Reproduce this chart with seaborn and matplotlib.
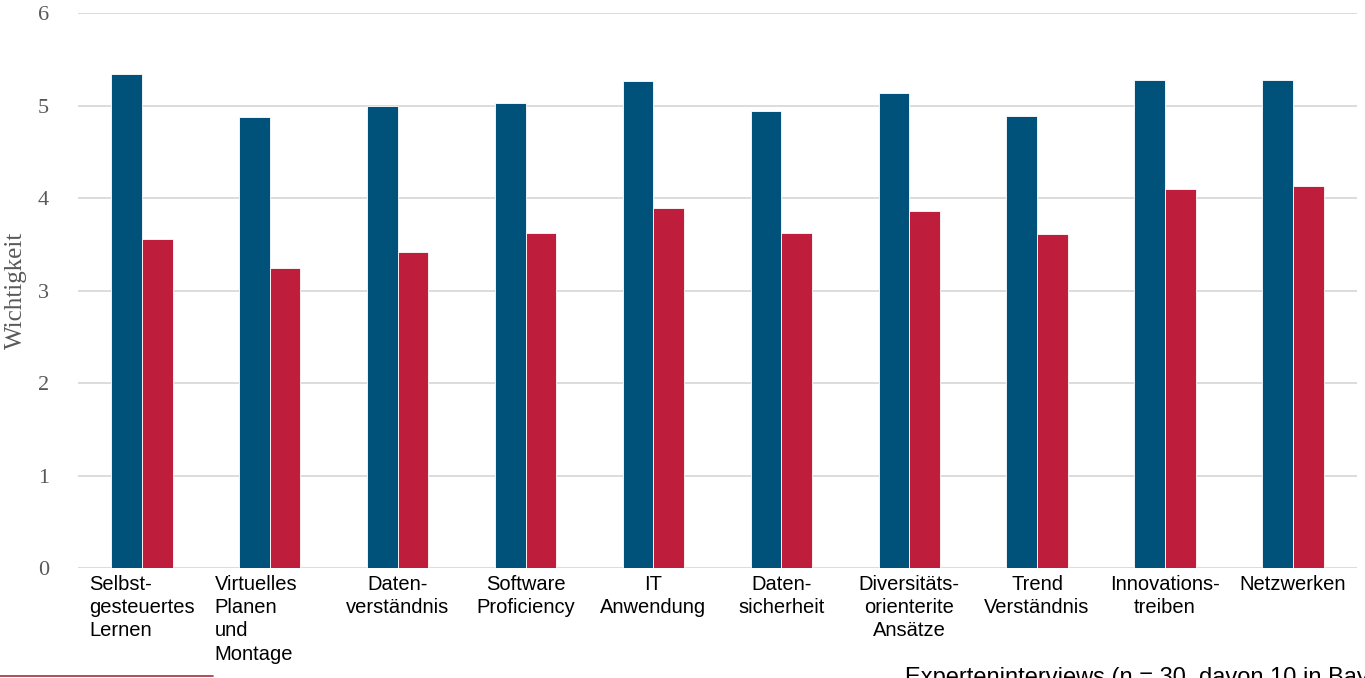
import matplotlib
matplotlib.use("Agg")
import matplotlib.pyplot as plt
import matplotlib.transforms as mtransforms
import seaborn as sns
import pandas as pd
from matplotlib.lines import Line2D

categories = [
    "Selbst-\ngesteuertes\nLernen",
    "Virtuelles\nPlanen\nund\nMontage",
    "Daten-\nverständnis",
    "Software\nProficiency",
    "IT\nAnwendung",
    "Daten-\nsicherheit",
    "Diversitäts-\norienterite\nAnsätze",
    "Trend\nVerständnis",
    "Innovations-\ntreiben",
    "Netzwerken",
]
series_names = ["Wichtigkeit", "Ist"]
values_a = [5.34, 4.88, 5.00, 5.03, 5.26, 4.94, 5.14, 4.89, 5.28, 5.28]
values_b = [3.56, 3.24, 3.42, 3.62, 3.89, 3.62, 3.86, 3.61, 4.10, 4.13]
y_ticks = [0, 1, 2, 3, 4, 5, 6]

df = pd.DataFrame({
    "cat": categories * 2,
    "series": [series_names[0]] * len(categories) + [series_names[1]] * len(categories),
    "value": values_a + values_b,
})

sns.set_theme(style="white")
plt.rcParams["font.family"] = ["Liberation Sans", "DejaVu Sans"]

fig = plt.figure(figsize=(13.65, 6.78), dpi=100)
ax = fig.add_axes([0.0571, 0.1622, 0.9369, 0.8186])

sns.barplot(data=df, x="cat", y="value", hue="series", order=categories,
            hue_order=series_names, palette=["#00527A", "#BE1E3C"],
            saturation=1, width=0.48, gap=0, ax=ax, legend=False,
            errorbar=None, linewidth=0.6, edgecolor="#ffffff")

ax.set_ylim(0, 6)
ax.set_xlim(-0.5, len(categories) - 0.5)
ax.set_yticks(y_ticks)
ax.yaxis.grid(True, color="#d9d9d9", linewidth=1.3)
ax.set_axisbelow(True)
for s in ax.spines.values():
    s.set_visible(False)

ax.tick_params(axis="y", length=0, pad=21, labelsize=16, labelcolor="#595959")
for lbl in ax.get_yticklabels():
    lbl.set_family("Liberation Serif")
ax.set_ylabel("Wichtigkeit", family="Liberation Serif", fontsize=18,
              color="#595959", labelpad=8)
ax.set_xlabel("")
ax.tick_params(axis="x", length=0, pad=5, labelsize=14.5, labelcolor="#000000")
ax.set_xticks(range(len(categories)))
ax.set_xticklabels(categories, linespacing=1.28)
for i, lbl in enumerate(ax.get_xticklabels()):
    if i < 2:
        lbl.set_multialignment("left")
    else:
        lbl.set_multialignment("center")
    if i == 1:
        lbl.set_transform(lbl.get_transform() +
                          mtransforms.ScaledTranslation(-0.14, 0, fig.dpi_scale_trans))

fig.add_artist(Line2D([0, 213 / 1365], [1 - 676 / 678] * 2,
                      color="#A33040", linewidth=1.2, transform=fig.transFigure))
fig.text(905 / 1365, 1 - 667 / 678, "Experteninterviews (n = 30, davon 10 in Bayern)",
         fontsize=17, va="top", ha="left", color="#000000")

fig.savefig("out.png", dpi=100)
